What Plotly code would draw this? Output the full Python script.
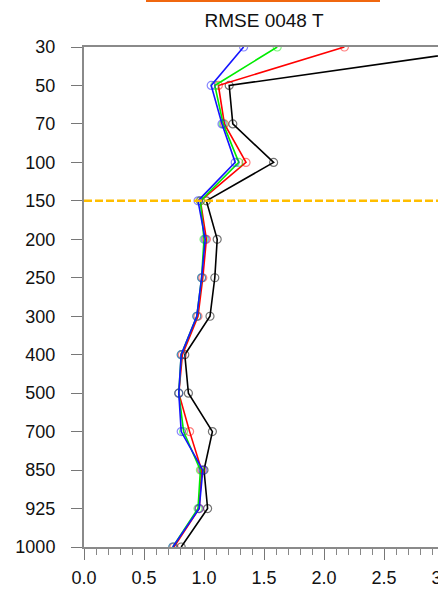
import plotly.graph_objects as go

# Pressure levels (hPa), drawn top to bottom
levels = [30, 50, 70, 100, 150, 200, 250, 300, 400, 500, 700, 850, 925, 1000]

# RMSE of temperature at each level for the four runs
rmse_black = [3.47, 1.21, 1.24, 1.58, 1.02, 1.11, 1.09, 1.05, 0.84, 0.87, 1.07, 1.00, 1.03, 0.81]
rmse_red = [2.17, 1.12, 1.17, 1.35, 0.97, 1.02, 0.99, 0.95, 0.82, 0.79, 0.88, 0.98, 0.96, 0.75]
rmse_green = [1.61, 1.09, 1.16, 1.29, 0.97, 1.00, 0.98, 0.94, 0.81, 0.79, 0.83, 0.97, 0.95, 0.74]
rmse_blue = [1.33, 1.06, 1.15, 1.26, 0.95, 1.01, 0.98, 0.94, 0.81, 0.79, 0.81, 0.99, 0.96, 0.74]

series = [
    ("black", rmse_black, "rgba(0,0,0,1)", "rgba(0,0,0,0.55)"),
    ("red", rmse_red, "rgba(255,0,0,1)", "rgba(255,0,0,0.5)"),
    ("green", rmse_green, "rgba(0,235,0,1)", "rgba(0,235,0,0.5)"),
    ("blue", rmse_blue, "rgba(20,20,255,1)", "rgba(20,20,255,0.5)"),
]

x_ticks = [0.0, 0.5, 1.0, 1.5, 2.0, 2.5, 3.0]
title_text = "RMSE 0048 T"
ref_level = 150

cats = [str(p) for p in levels]

fig = go.Figure()
for name, vals, lc, mc in series:
    fig.add_trace(go.Scatter(
        x=vals, y=cats, mode="lines+markers", name=name,
        line=dict(color=lc, width=1.6),
        marker=dict(symbol="circle-open", size=8, color=mc, line=dict(width=1.2, color=mc)),
        cliponaxis=True, showlegend=False,
    ))

# dashed reference level
fig.add_shape(type="line", xref="x domain", yref="y",
              x0=0, x1=1, y0=cats.index(str(ref_level)), y1=cats.index(str(ref_level)),
              line=dict(color="#FFBE00", width=2.5, dash="8px,3px"), layer="above")

# orange bar above the title
fig.add_shape(type="rect", xref="paper", yref="paper",
              x0=(146 - 84) / 360, x1=(380 - 84) / 360,
              y0=(547 - 2) / 500, y1=(547 + 1) / 500,
              line=dict(width=0), fillcolor="#F0670F")

axis_font = dict(family="Liberation Sans, Arial, sans-serif", size=18, color="#111111")

fig.update_layout(
    width=470, height=589,
    margin=dict(l=84, r=26, t=47, b=42, autoexpand=False),
    paper_bgcolor="white", plot_bgcolor="white",
    title=dict(text=title_text, x=(264) / 470, xanchor="center",
               y=1 - 20 / 589, yanchor="middle", yref="container",
               font=dict(family="Liberation Sans, Arial, sans-serif", size=19, color="#111111")),
    xaxis=dict(range=[0, 3], tickvals=x_ticks, tickformat=".1f", automargin=False,
               showgrid=False, zeroline=False,
               showline=True, linecolor="#8a8a8a", linewidth=2, mirror=True,
               ticks="outside", ticklen=11, tickwidth=1.2, tickcolor="#777777",
               minor=dict(dtick=0.1, ticks="outside", ticklen=6, tickwidth=1, tickcolor="#888888", showgrid=False),
               tickfont=axis_font, ticklabelstandoff=2),
    yaxis=dict(type="category", categoryorder="array", categoryarray=cats,
               range=[len(cats) - 1, 0], automargin=False,
               showgrid=False, zeroline=False,
               showline=True, linecolor="#8a8a8a", linewidth=2, mirror=True,
               ticks="outside", ticklen=11, tickwidth=1.2, tickcolor="#777777",
               tickfont=axis_font, ticklabelstandoff=12),
)

fig.write_html("out.html", post_script="document.body.style.overflow='hidden';document.body.style.margin='0';")
